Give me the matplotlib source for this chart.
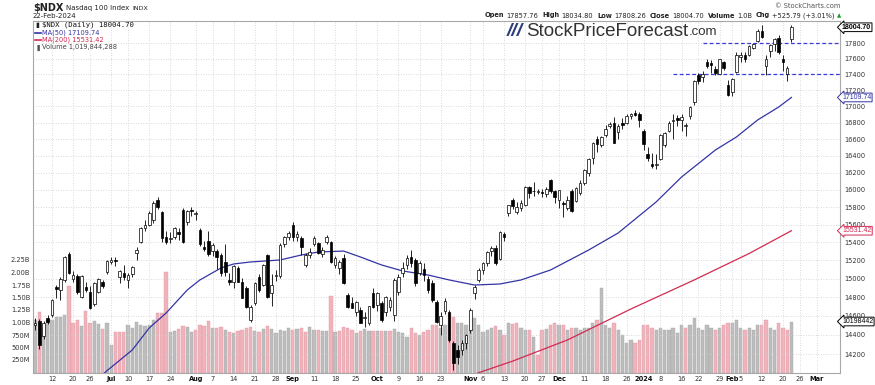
import matplotlib
matplotlib.use("Agg")
import matplotlib.pyplot as plt
import matplotlib.transforms as mtrans
from matplotlib.lines import Line2D
from matplotlib.ticker import NullLocator
import pandas as pd

W, H = 875, 385

# trading calendar
holidays = ["2023-06-19", "2023-07-04", "2023-09-04", "2023-11-23",
            "2023-12-25", "2024-01-01", "2024-01-15", "2024-02-19"]
days = [d.strftime("%Y-%m-%d") for d in pd.bdate_range("2023-06-06", "2024-03-08")]
days = [d for d in days if d not in holidays]
pos_of = {d: i for i, d in enumerate(days)}

# daily OHLC, Jun 6 2023 .. Feb 22 2024
opens = [
    14500, 14550, 14390, 14575, 14610, 14910, 14880, 14990, 15275, 15000, 15030, 14800, 14905, 14860, 14730, 14860, 14960, 15070,
    15180, 15200, 15020, 15060, 14990, 15050, 15280, 15405, 15565, 15600, 15655, 15883, 15745, 15460, 15440, 15460, 15520, 15767, 15630, 15770,
    15720, 15540, 15350, 15420, 15300, 15300, 15260, 15180, 14990, 14960, 15120, 14960, 14900, 14560, 14740, 15020, 14930, 15260, 14840, 15030, 15030, 15380, 15460,
    15600, 15460, 15450, 15150, 15260, 15380, 15390, 15270, 15410, 15400, 15150, 15120, 15230, 14820, 14740, 14640, 14660, 14580, 14530, 14850,
    14720, 14740, 14640, 14690, 14610, 14860, 15060, 15150, 15240, 15200, 15060, 15110, 15000, 14950, 14750, 14500, 14650, 14640, 14320, 14240, 14240, 14320,
    14450, 14850, 14990, 15100, 15170, 15300, 15340, 15220, 15500, 15735, 15880, 15740, 15790, 15830, 16030, 15990, 15980, 15970, 15950, 16110, 15990,
    15880, 15850, 15790, 15990, 15870, 15960, 16080, 16200, 16370, 16600, 16530, 16650, 16760, 16790, 16680, 16790, 16790, 16880, 16920, 16910,
    16700, 16420, 16300, 16290, 16360, 16530, 16700, 16820, 16860, 16830, 16760, 16880, 17050, 17390, 17360, 17560, 17540, 17470, 17410, 17560, 17270,
    17180, 17430, 17620, 17650, 17650, 17740, 17830, 17960, 17505, 17700, 17790, 17870, 17590, 17410, 17857.76]
highs = [
    14575, 14565, 14545, 14610, 14780, 14935, 15015, 15250, 15295, 15080, 15050, 15040, 14960, 14920, 14960, 15010, 14990, 15210,
    15240, 15235, 15100, 15150, 15060, 15140, 15350, 15570, 15650, 15750, 15870, 15917, 15760, 15530, 15520, 15570, 15560, 15790, 15770, 15800,
    15760, 15560, 15420, 15530, 15390, 15330, 15280, 15380, 15060, 15150, 15140, 15010, 14920, 14720, 14960, 15050, 15160, 15270, 15050, 15090, 15390, 15470, 15530,
    15630, 15530, 15470, 15280, 15340, 15470, 15410, 15350, 15480, 15420, 15250, 15200, 15270, 14840, 14800, 14760, 14690, 14640, 14710, 14900,
    14860, 14760, 14810, 14800, 15010, 15050, 15180, 15260, 15315, 15230, 15190, 15170, 15030, 14990, 14770, 14640, 14790, 14660, 14340, 14290, 14350, 14410,
    14680, 14930, 15120, 15180, 15300, 15360, 15370, 15530, 15520, 15830, 15900, 15860, 15880, 16040, 16040, 16090, 16010, 16010, 16030, 16130, 16000,
    16000, 15870, 15930, 16010, 16030, 16110, 16240, 16370, 16560, 16640, 16640, 16770, 16810, 16870, 16780, 16860, 16900, 16920, 16960, 16930,
    16720, 16500, 16430, 16420, 16660, 16690, 16820, 16900, 16890, 16900, 16790, 17000, 17330, 17420, 17440, 17600, 17580, 17500, 17600, 17570, 17330,
    17350, 17680, 17690, 17680, 17780, 17800, 17980, 18040, 17640, 17790, 17860, 17900, 17640, 17500, 18034.80]
lows = [
    14455, 14255, 14360, 14515, 14590, 14790, 14770, 14960, 15050, 14960, 14830, 14790, 14860, 14670, 14710, 14840, 14900, 15050,
    15160, 15140, 14950, 14990, 14900, 15020, 15200, 15390, 15530, 15580, 15620, 15780, 15400, 15380, 15390, 15440, 15430, 15390, 15600, 15700,
    15650, 15360, 15300, 15250, 15250, 15110, 15030, 15030, 14930, 14900, 14960, 14790, 14680, 14540, 14720, 14860, 14920, 14790, 14710, 14980, 15010, 15350, 15430,
    15420, 15420, 15260, 15130, 15230, 15360, 15270, 15240, 15380, 15170, 15120, 15050, 14940, 14680, 14680, 14600, 14520, 14480, 14500, 14680,
    14650, 14540, 14600, 14650, 14550, 14820, 15020, 15110, 15130, 14920, 15040, 14970, 14850, 14750, 14520, 14400, 14620, 14330, 14040, 14100, 14190, 14250,
    14420, 14780, 14960, 15050, 15140, 15250, 15150, 15200, 15420, 15700, 15780, 15720, 15760, 15810, 15900, 15930, 15950, 15920, 15920, 15960, 15850,
    15790, 15690, 15770, 15740, 15860, 15940, 16060, 16160, 16300, 16450, 16500, 16630, 16730, 16550, 16600, 16720, 16780, 16840, 16880, 16750,
    16470, 16340, 16250, 16240, 16350, 16510, 16690, 16600, 16760, 16700, 16640, 16850, 17020, 17280, 17300, 17480, 17420, 17390, 17400, 17460, 17130,
    17130, 17420, 17560, 17560, 17630, 17720, 17810, 17860, 17390, 17620, 17700, 17660, 17440, 17320, 17808.26]
closes = [
    14530, 14290, 14530, 14540, 14770, 14890, 15000, 15240, 15065, 15040, 14860, 15030, 14880, 14685, 14950, 15000, 14920, 15190,
    15210, 15195, 15080, 15020, 15040, 15130, 15320, 15565, 15600, 15735, 15847, 15804, 15450, 15405, 15450, 15560, 15500, 15405, 15750, 15757,
    15735, 15380, 15330, 15270, 15371, 15243, 15057, 15068, 14966, 15141, 14968, 14795, 14695, 14690, 14950, 14880, 15150, 14800, 14930, 15040, 15370, 15460, 15505,
    15460, 15500, 15350, 15260, 15290, 15450, 15280, 15320, 15460, 15180, 15230, 15180, 14950, 14690, 14685, 14750, 14530, 14590, 14700, 14695,
    14840, 14560, 14800, 14770, 14990, 15020, 15120, 15230, 15170, 14950, 15170, 15040, 14880, 14770, 14540, 14600, 14760, 14350, 14110, 14170, 14320, 14400,
    14660, 14910, 15100, 15170, 15290, 15340, 15170, 15520, 15460, 15825, 15810, 15800, 15850, 16030, 15960, 15985, 15982, 15962, 16010, 15987, 15920,
    15997, 15840, 15880, 15759, 16020, 16085, 16228, 16366, 16553, 16539, 16623, 16726, 16778, 16554, 16757, 16777, 16879, 16906, 16898, 16826,
    16544, 16368, 16282, 16305, 16650, 16668, 16792, 16832, 16833, 16872, 16776, 16990, 17314, 17320, 17400, 17499, 17518, 17421, 17596, 17476, 17137,
    17344, 17642, 17643, 17593, 17756, 17784, 17962, 17882, 17600, 17769, 17846, 17686, 17556, 17479, 18004.70]
# volume, millions of shares
volumes = [
    1050, 1210, 910, 1050, 1050, 1110, 1110, 1150, 1730, 990, 1050, 930, 1230, 990, 1030, 970, 870, 990,
    550, 810, 820, 810, 950, 890, 1010, 950, 940, 960, 1050, 1190, 1190, 2010, 810, 830, 870, 930, 920, 810,
    860, 950, 940, 1030, 900, 890, 910, 860, 820, 800, 830, 860, 900, 920, 840, 820, 870, 930, 870, 800, 850, 830, 900,
    860, 870, 900, 810, 910, 850, 850, 840, 840, 1530, 820, 830, 910, 890, 850, 800, 830, 870, 840, 830,
    830, 840, 830, 830, 870, 820, 790, 710, 890, 790, 750, 810, 850, 950, 950, 890, 950, 1190, 1110, 990, 1000, 950,
    850, 1090, 950, 810, 850, 890, 930, 850, 750, 990, 970, 990, 890, 850, 850, 710, 350, 850, 870, 950, 1000,
    950, 950, 850, 900, 900, 850, 900, 900, 1000, 1050, 1700, 950, 900, 1000, 850, 750, 600, 650, 600, 650,
    950, 950, 900, 850, 900, 850, 850, 900, 800, 950, 900, 950, 1100, 900, 850, 950, 900, 850, 900, 950, 1000,
    1000, 1050, 900, 850, 900, 850, 950, 950, 1050, 900, 850, 1000, 900, 850, 1019.84]

ma50_dates = ["2023-06-28", "2023-06-30", "2023-07-11", "2023-07-17", "2023-07-21", "2023-07-28",
              "2023-08-02", "2023-08-09", "2023-08-14", "2023-08-18", "2023-08-29", "2023-09-06",
              "2023-09-12", "2023-09-20", "2023-09-26", "2023-10-03", "2023-10-10", "2023-10-18",
              "2023-10-25", "2023-11-02", "2023-11-10", "2023-11-17", "2023-11-29", "2023-12-12",
              "2023-12-21", "2024-01-05", "2024-01-16", "2024-01-26", "2024-02-02", "2024-02-09",
              "2024-02-16", "2024-02-22"]
ma50_vals = [13950, 14030, 14243, 14472, 14630, 14877, 14986, 15117, 15161, 15183, 15205, 15260,
             15293, 15304, 15238, 15150, 15084, 15040, 14986, 14931, 14942, 14986, 15095, 15315,
             15506, 15860, 16149, 16469, 16626, 16832, 16992, 17109.74]
ma200_dates = ["2023-10-31", "2023-11-03", "2023-11-15", "2023-12-05", "2023-12-27",
               "2024-01-19", "2024-02-07", "2024-02-22"]
ma200_vals = [13960, 14010, 14128, 14347, 14673, 14986, 15277, 15531.42]

tick_dates = ["2023-06-12", "2023-06-20", "2023-06-26", "2023-07-03", "2023-07-10", "2023-07-17",
              "2023-07-24", "2023-08-01", "2023-08-07", "2023-08-14", "2023-08-21", "2023-08-28",
              "2023-09-01", "2023-09-11", "2023-09-18", "2023-09-25", "2023-10-02", "2023-10-09",
              "2023-10-16", "2023-10-23", "2023-11-01", "2023-11-06", "2023-11-13", "2023-11-20",
              "2023-11-27", "2023-12-01", "2023-12-11", "2023-12-18", "2023-12-26", "2024-01-02",
              "2024-01-08", "2024-01-16", "2024-01-22", "2024-01-29", "2024-02-01", "2024-02-05",
              "2024-02-12", "2024-02-20", "2024-02-26", "2024-03-01"]
tick_labels = ["12", "20", "26", "Jul", "10", "17", "24", "Aug", "7", "14", "21", "28",
               "Sep", "11", "18", "25", "Oct", "9", "16", "23", "Nov", "6", "13", "20",
               "27", "Dec", "11", "18", "26", "2024", "8", "16", "22", "29", "Feb", "5",
               "12", "20", "26", "Mar"]
price_ticks = list(range(14200, 17801, 200))
vol_ticks = [250, 500, 750, 1000, 1250, 1500, 1750, 2000, 2250]
vol_tick_labels = ["250M", "500M", "750M", "1.00B", "1.25B", "1.50B", "1.75B", "2.00B", "2.25B"]


def fx(x):
    return x / W


def fy(y):
    return 1 - y / H


BLUE = "#3434a6"
RED = "#d22a52"

fig = plt.figure(figsize=(W / 100, H / 100), dpi=100)
rect = [fx(33), 12 / H, (840 - 33) / W, (373 - 21) / H]
axv = fig.add_axes(rect)
ax = fig.add_axes(rect, sharex=axv)
ax.patch.set_visible(False)

n = len(closes)
xs = list(range(n))

# volume pane
vcol, vedge = [], []
for i in range(n):
    down = i > 0 and closes[i] < closes[i - 1]
    vcol.append("#efb3bc" if down else "#bcbcbc")
    vedge.append("#e39aa6" if down else "#a9a9a9")
axv.bar(xs, volumes, width=0.78, color=vcol, edgecolor=vedge, linewidth=0.3)
axv.set_ylim(-10, 7030)
axv.set_yticks(vol_ticks)
axv.set_yticklabels(vol_tick_labels)
axv.tick_params(axis="y", length=0, pad=2, labelsize=4.8, labelcolor="#333333")
axv.tick_params(axis="x", length=0)
for s in axv.spines.values():
    s.set_visible(False)

# price pane
ax.set_yscale("log")
ax.set_ylim(14006.8, 18086.7)
ax.set_xlim(-0.5, 190.5)
ax.yaxis.tick_right()
ax.yaxis.set_minor_locator(NullLocator())
ax.set_yticks(price_ticks)
ax.set_yticklabels([str(p) for p in price_ticks])
ax.tick_params(axis="y", length=0, pad=3, labelsize=4.8, labelcolor="#333333")

tpos = [pos_of[d] for d in tick_dates]
ax.set_xticks(tpos)
ax.set_xticklabels(tick_labels)
ax.tick_params(axis="x", length=0, pad=2, labelsize=4.8, labelcolor="#333333")
for lab in ax.get_xticklabels():
    if not lab.get_text().isdigit() or lab.get_text() == "2024":
        lab.set_fontweight("bold")
        lab.set_color("#111111")
plt.setp(axv.get_xticklabels(), visible=False)

ax.grid(True, color="#cfcfcf", linestyle=(0, (1, 2)), linewidth=0.6)
ax.set_axisbelow(True)
for s in ax.spines.values():
    s.set_color("#a8a8a8")
    s.set_linewidth(0.8)

# moving averages
ax.plot([pos_of[d] for d in ma50_dates], ma50_vals, color=BLUE, lw=0.9, zorder=3)
ax.plot([pos_of[d] for d in ma200_dates], ma200_vals, color=RED, lw=0.9, zorder=3)

# candles
ax.vlines(xs, lows, highs, color="black", linewidth=0.6, zorder=4)
bot = [min(o, c) for o, c in zip(opens, closes)]
hgt = [abs(c - o) for o, c in zip(opens, closes)]
fc = ["white" if c >= o else "black" for o, c in zip(opens, closes)]
ax.bar(xs, hgt, bottom=bot, width=0.62, color=fc, edgecolor="black",
       linewidth=0.5, zorder=5)

# support / resistance lines
ax.hlines(17800, pos_of["2024-01-23"], 191, colors="#3a3ad8",
          linestyles=(0, (3, 2)), linewidth=0.9, zorder=3)
ax.hlines(17400, pos_of["2024-01-11"], 191, colors="#3a3ad8",
          linestyles=(0, (3, 2)), linewidth=0.9, zorder=3)

# right-hand value tags
tr_p = mtrans.blended_transform_factory(ax.transAxes, ax.transData)
tr_v = mtrans.blended_transform_factory(axv.transAxes, axv.transData)
dx = 1 + 2 / 807
for val, txt, col, wt, tr in [
        (closes[-1], "18004.70", "black", "bold", tr_p),
        (ma50_vals[-1], "17109.74", BLUE, "normal", tr_p),
        (ma200_vals[-1], "15531.42", RED, "normal", tr_p),
        (volumes[-1], "10198442", "black", "normal", tr_v)]:
    fig.text(dx, val, txt, transform=tr, ha="left", va="center", fontsize=5,
             family="Liberation Sans", color=col, fontweight=wt, zorder=10,
             clip_on=False,
             bbox=dict(boxstyle="larrow,pad=0.12", fc="white", ec=col, lw=0.7))


def seq_text(x, y, pieces, align="left"):
    r = fig.canvas.get_renderer()
    arts = []
    for s, kw, gap in pieces:
        t = fig.text(0, fy(y), s, va="center", ha="left", **kw)
        arts.append((t, gap))
    widths = [t.get_window_extent(r).width + g for t, g in arts]
    cur = x if align == "left" else x - sum(widths) + arts[-1][1]
    for (t, g), w in zip(arts, widths):
        t.set_x(fx(cur))
        cur += w


base = dict(family="DejaVu Sans", color="#222222")
seq_text(33, 8, [
    ("$NDX", dict(base, fontsize=7, fontweight="bold"), 3),
    ("Nasdaq 100 Index", dict(base, fontsize=5), 3),
    ("INDX", dict(base, fontsize=4.5), 0)])
fig.text(fx(33), fy(16.5), "22-Feb-2024", fontsize=5, va="center", color="#222222")
fig.text(fx(840), fy(6), "\u00a9 StockCharts.com", fontsize=4.8, ha="right",
         va="center", color="#555555")

lb = dict(base, fontsize=4.8, fontweight="bold")
vl = dict(base, fontsize=4.8)
seq_text(841, 15.5, [
    ("Open", lb, 2), ("17857.76", vl, 4), ("High", lb, 2), ("18034.80", vl, 4),
    ("Low", lb, 2), ("17808.26", vl, 4), ("Close", lb, 2), ("18004.70", vl, 4),
    ("Volume", lb, 2), ("1.0B", vl, 4), ("Chg", lb, 2), ("+525.79 (+3.01%)", vl, 2),
    ("\u25b2", dict(base, fontsize=4, color="#1a9a2a"), 0)], align="right")

# legend block inside the chart
fig.text(fx(35), fy(25), "\u25ae", fontsize=5, va="center", color="#222222")
fig.text(fx(42), fy(25), "$NDX (Daily) 18004.70", fontsize=5.2, va="center",
         family="DejaVu Sans Mono", color="#111111")
fig.add_artist(Line2D([fx(35), fx(41)], [fy(32.5)] * 2, color=BLUE, lw=1.2))
fig.text(fx(42), fy(32.5), "MA(50) 17109.74", fontsize=4.8, va="center", color=BLUE)
fig.add_artist(Line2D([fx(35), fx(41)], [fy(40)] * 2, color=RED, lw=1.2))
fig.text(fx(42), fy(40), "MA(200) 15531.42", fontsize=4.8, va="center", color=RED)
fig.text(fx(35), fy(47.5), "\u2590", fontsize=4.5, va="center", color="#555555")
fig.text(fx(42), fy(47.5), "Volume 1,019,844,288", fontsize=4.8, va="center", color="#444444")

# watermark
seq_text(507, 32, [
    ("///", dict(family="Liberation Sans", fontsize=14, fontweight="bold",
                 style="italic", color="#2e3f78"), 3),
    ("StockPriceForecast", dict(family="Liberation Sans", fontsize=13.5,
                                color="#333333"), 1),
    (".com", dict(family="Liberation Sans", fontsize=9.5, color="#333333"), 0)])

fig.savefig("out.png", dpi=100)
